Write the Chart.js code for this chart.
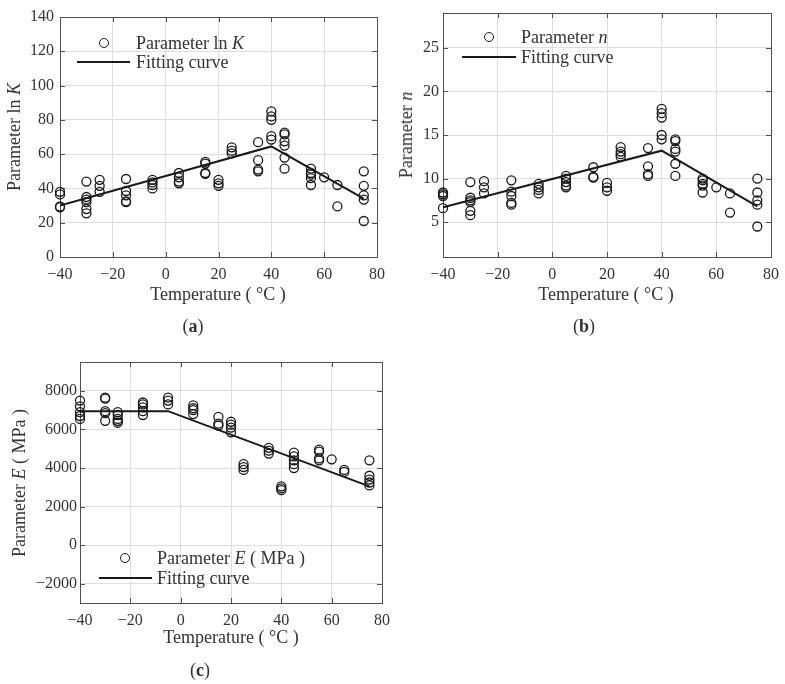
<!DOCTYPE html>
<html>
<head>
<meta charset="utf-8">
<script src="https://cdn.jsdelivr.net/npm/chart.js@4.4.1/dist/chart.umd.min.js"></script>
<style>
  body { margin: 0; background: #fff; }
  #page { position: relative; width: 785px; height: 684px; overflow: hidden;
          font-family: 'Liberation Serif', 'DejaVu Serif', serif; color: #333; }
  canvas { position: absolute; }
  .txt { position: absolute; white-space: nowrap; font-size: 18px; line-height: 20px; transform: translate(0, -50%); }
  .ctr { transform: translate(-50%, -50%); }
  .rot { transform: translate(-50%, -50%) rotate(-90deg); }
  .mark { position: absolute; width: 8px; height: 8px; border: 1.3px solid #1a1a1a; border-radius: 50%;
          transform: translate(-50%, -50%); }
  .lline { position: absolute; height: 0; border-top: 2px solid #1a1a1a; transform: translate(0, -50%); }
</style>
</head>
<body>
<div id="page">
  <canvas id="chartA" width="392" height="310" style="left:0;top:0"></canvas>
  <canvas id="chartB" width="393" height="310" style="left:392px;top:0"></canvas>
  <canvas id="chartC" width="392" height="310" style="left:0;top:340px"></canvas>

  <!-- (a) -->
  <div class="txt rot" style="left:14px;top:137px">Parameter ln <i>K</i></div>
  <div class="txt ctr" style="left:218px;top:294px">Temperature ( °C )</div>
  <div class="txt ctr" style="left:193px;top:326px">(<b>a</b>)</div>
  <span class="mark" style="left:104px;top:43px"></span>
  <div class="txt" style="left:136px;top:43px">Parameter ln <i>K</i></div>
  <span class="lline" style="left:77px;top:62px;width:53px"></span>
  <div class="txt" style="left:136px;top:62px">Fitting curve</div>

  <!-- (b) -->
  <div class="txt rot" style="left:406px;top:135px">Parameter <i>n</i></div>
  <div class="txt ctr" style="left:606px;top:294px">Temperature ( °C )</div>
  <div class="txt ctr" style="left:584px;top:326px">(<b>b</b>)</div>
  <span class="mark" style="left:489px;top:37px"></span>
  <div class="txt" style="left:521px;top:37px">Parameter <i>n</i></div>
  <span class="lline" style="left:462px;top:57px;width:54px"></span>
  <div class="txt" style="left:521px;top:57px">Fitting curve</div>

  <!-- (c) -->
  <div class="txt rot" style="left:19px;top:483px">Parameter <i>E</i> ( MPa )</div>
  <div class="txt ctr" style="left:231px;top:637px">Temperature ( °C )</div>
  <div class="txt ctr" style="left:200px;top:670px">(<b>c</b>)</div>
  <span class="mark" style="left:125px;top:558px"></span>
  <div class="txt" style="left:157px;top:558px">Parameter <i>E</i> ( MPa )</div>
  <span class="lline" style="left:99px;top:578px;width:53px"></span>
  <div class="txt" style="left:157px;top:578px">Fitting curve</div>
</div>

<script>
// test temperatures (°C)
const temps = [-40, -30, -25, -15, -5, 5, 15, 20, 25, 35, 40, 45, 55, 60, 65, 75];

// measured values, one list per temperature
const lnK = [
  [38, 36.5, 29.5, 29], [44, 35, 33.5, 32, 28, 25.5], [45, 41.5, 38], [45.5, 38.5, 36, 32.5, 32],
  [45, 43.5, 42, 40], [49, 46.5, 44, 43], [55.5, 54.5, 49, 48.5], [45, 43, 41.5],
  [64, 62, 60.5], [67, 56.5, 51, 50], [85, 82, 80, 70.5, 68.5], [72.5, 71.5, 67.5, 65, 58, 51.5],
  [51.5, 49, 48, 46, 42], [46.5], [42, 29.5], [50, 41.5, 36, 33.5, 21]
];
const paramN = [
  [8.4, 8.2, 8.0, 6.6], [9.6, 7.8, 7.5, 7.3, 6.3, 5.8], [9.7, 9.0, 8.3], [9.8, 8.5, 8.0, 7.2, 7.0],
  [9.4, 9.0, 8.7, 8.3], [10.3, 10.0, 9.6, 9.2, 9.0], [11.3, 10.2, 10.1], [9.5, 9.0, 8.6],
  [13.6, 13.1, 12.8, 12.5], [13.5, 11.4, 10.5, 10.3], [18.0, 17.5, 17.0, 15.0, 14.5], [14.5, 14.3, 13.4, 13.1, 11.7, 10.3],
  [10.0, 9.8, 9.4, 9.2, 8.4], [9.0], [8.3, 6.1], [10.0, 8.4, 7.5, 7.0, 4.5]
];
const paramE = [
  [7500, 7200, 6900, 6700, 6550], [7650, 7600, 6950, 6850, 6450], [6900, 6750, 6550, 6450, 6350], [7400, 7300, 7150, 6950, 6750],
  [7650, 7500, 7300], [7250, 7100, 7000, 6800], [6650, 6300, 6200], [6400, 6250, 6100, 5850],
  [4200, 4050, 3900], [5050, 4900, 4750], [3050, 2950, 2850], [4800, 4600, 4400, 4200, 4000],
  [4950, 4850, 4500, 4400], [4450], [3900, 3800], [4400, 3600, 3400, 3250, 3100]
];

// fitted piecewise lines
const fitTempK = [-40, 40, 75];
const fitK = [30, 64.5, 34];
const fitTempN = [-40, 40, 75];
const fitN = [6.7, 13.2, 6.8];
const fitTempE = [-40, -5, 75];
const fitE = [6950, 6950, 3050];

// tick labels
const xTicks = [-40, -20, 0, 20, 40, 60, 80];
const yTicksK = [0, 20, 40, 60, 80, 100, 120, 140];
const yTicksN = [5, 10, 15, 20, 25];
const yTicksE = [-2000, 0, 2000, 4000, 6000, 8000];

const FONT = "'Liberation Serif', 'DejaVu Serif', serif";
const INK = '#1a1a1a';
const FRAME = '#505050';

function points(groups) {
  const out = [];
  temps.forEach((t, i) => groups[i].forEach(v => out.push({ x: t, y: v })));
  return out;
}

function fmt(v) {
  return v < 0 ? '\u2212' + Math.abs(v) : String(v);
}

function fixedTicks(list) {
  return s => { s.ticks = list.map(v => ({ value: v })); };
}

// MATLAB style box with inward ticks on all four sides
const boxPlugin = {
  id: 'box',
  beforeDatasetsDraw(chart) {
    const { ctx, chartArea: a, scales } = chart;
    ctx.save();
    ctx.strokeStyle = FRAME;
    ctx.lineWidth = 1;
    ctx.beginPath();
    scales.x.ticks.forEach(t => {
      const px = Math.round(scales.x.getPixelForValue(t.value)) + 0.5;
      ctx.moveTo(px, a.bottom); ctx.lineTo(px, a.bottom - 5);
      ctx.moveTo(px, a.top); ctx.lineTo(px, a.top + 5);
    });
    scales.y.ticks.forEach(t => {
      const py = Math.round(scales.y.getPixelForValue(t.value)) + 0.5;
      ctx.moveTo(a.left, py); ctx.lineTo(a.left + 5, py);
      ctx.moveTo(a.right, py); ctx.lineTo(a.right - 5, py);
    });
    ctx.stroke();
    ctx.strokeRect(Math.round(a.left) + 0.5, Math.round(a.top) + 0.5,
                   Math.round(a.right - a.left), Math.round(a.bottom - a.top));
    ctx.restore();
  }
};

function makeChart(id, cfg) {
  return new Chart(document.getElementById(id), {
    type: 'scatter',
    data: {
      datasets: [{
        data: points(cfg.values),
        pointStyle: 'circle',
        pointRadius: 4.5,
        pointHoverRadius: 4.5,
        borderColor: INK,
        borderWidth: 1.3,
        backgroundColor: 'rgba(0,0,0,0)',
        clip: false
      }, {
        data: cfg.fitX.map((x, i) => ({ x: x, y: cfg.fitY[i] })),
        showLine: true,
        pointRadius: 0,
        borderColor: INK,
        borderWidth: 2,
        fill: false
      }]
    },
    options: {
      responsive: false,
      animation: false,
      devicePixelRatio: 1,
      layout: { padding: { left: 0, top: cfg.padTop, right: cfg.padRight, bottom: 0 } },
      plugins: { legend: { display: false }, tooltip: { enabled: false } },
      scales: {
        x: {
          type: 'linear', min: -40, max: 80,
          afterBuildTicks: fixedTicks(xTicks),
          afterFit: s => { s.height = cfg.xHeight; s.paddingLeft = 0; s.paddingRight = 0; },
          grid: { color: '#dedede', drawTicks: false },
          border: { display: false },
          ticks: { autoSkip: false, maxRotation: 0, padding: 8,
                   color: '#333', font: { family: FONT, size: 16 }, callback: fmt }
        },
        y: {
          type: 'linear', min: cfg.yMin, max: cfg.yMax,
          afterBuildTicks: fixedTicks(cfg.yTicks),
          afterFit: s => { s.width = cfg.yWidth; s.paddingTop = 0; s.paddingBottom = 0; },
          grid: { color: '#dedede', drawTicks: false },
          border: { display: false },
          ticks: { autoSkip: false, padding: cfg.yPad,
                   color: '#333', font: { family: FONT, size: 16 }, callback: fmt }
        }
      }
    },
    plugins: [boxPlugin]
  });
}

document.addEventListener('DOMContentLoaded', function() {
  makeChart('chartA', { values: lnK, fitX: fitTempK, fitY: fitK, yTicks: yTicksK,
    yMin: 0, yMax: 140, yWidth: 60, yPad: 6, padTop: 17, padRight: 15, xHeight: 53 });
  makeChart('chartB', { values: paramN, fitX: fitTempN, fitY: fitN, yTicks: yTicksN,
    yMin: 1, yMax: 29, yWidth: 51, yPad: 4, padTop: 13, padRight: 14, xHeight: 53 });
  makeChart('chartC', { values: paramE, fitX: fitTempE, fitY: fitE, yTicks: yTicksE,
    yMin: -3000, yMax: 9500, yWidth: 80, yPad: 3, padTop: 22, padRight: 10, xHeight: 47 });
});
</script>
</body>
</html>
